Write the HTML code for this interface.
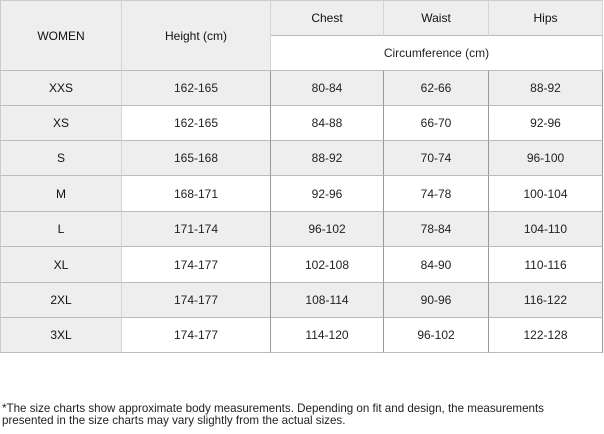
<!DOCTYPE html><html><head><style>
body{margin:0;width:604px;height:434px;background:#fff;font-family:"Liberation Sans",sans-serif;position:relative;overflow:hidden;color:#222}
.c{position:absolute;box-sizing:border-box;display:flex;align-items:center;justify-content:center;font-size:12px;border-right:1px solid #999;border-bottom:1px solid #bbb}
.g{background:#eeeeee}
.w{background:#fff}
.h{color:#111}
.note{position:absolute;left:2px;top:403px;font-size:11.6px;line-height:12px;color:#222}
</style></head><body>
<div class="c g h" style="left:0;top:0;width:122px;height:71px;border-right:1px solid #d4d4d4;border-left:1px solid #ccc;border-top:1px solid #ccc">WOMEN</div>
<div class="c g h" style="left:122px;top:0;width:149px;height:71px;border-right:1px solid #d4d4d4;border-top:1px solid #ccc">Height (cm)</div>
<div class="c g h" style="left:271px;top:0;width:113px;height:36px;border-right:1px solid #d4d4d4;border-top:1px solid #ccc">Chest</div>
<div class="c g h" style="left:384px;top:0;width:105px;height:36px;border-right:1px solid #d4d4d4;border-top:1px solid #ccc">Waist</div>
<div class="c g h" style="left:489px;top:0;width:114px;height:36px;border-right:1px solid #d4d4d4;border-top:1px solid #ccc">Hips</div>
<div class="c w" style="left:271px;top:36px;width:332px;height:35px;border-right:1px solid #ccc">Circumference (cm)</div>
<div id="rows"></div>
<div class="note">*The size charts show approximate body measurements. Depending on fit and design, the measurements<br>presented in the size charts may vary slightly from the actual sizes.</div>
<script>
var d=[["XXS","162-165","80-84","62-66","88-92"],["XS","162-165","84-88","66-70","92-96"],["S","165-168","88-92","70-74","96-100"],["M","168-171","92-96","74-78","100-104"],["L","171-174","96-102","78-84","104-110"],["XL","174-177","102-108","84-90","110-116"],["2XL","174-177","108-114","90-96","116-122"],["3XL","174-177","114-120","96-102","122-128"]];
var ys=[71,106,141,176,212,247,283,318,353],xs=[0,122,271,384,489,603],h="";
d.forEach(function(r,i){for(var j=0;j<5;j++){var g=(i%2==0)||j==0;var bl=j==0?"border-left:1px solid #ccc;border-right:1px solid #d4d4d4;":"";if(j==1&&i%2==0)bl="border-right:1px solid #999;";h+='<div class="c '+(g?'g':'w')+(j==0?' h':'')+'" style="'+bl+'left:'+xs[j]+'px;top:'+ys[i]+'px;width:'+(xs[j+1]-xs[j])+'px;height:'+(ys[i+1]-ys[i])+'px">'+r[j]+'</div>';}});
document.getElementById("rows").innerHTML=h;
</script>
</body></html>
